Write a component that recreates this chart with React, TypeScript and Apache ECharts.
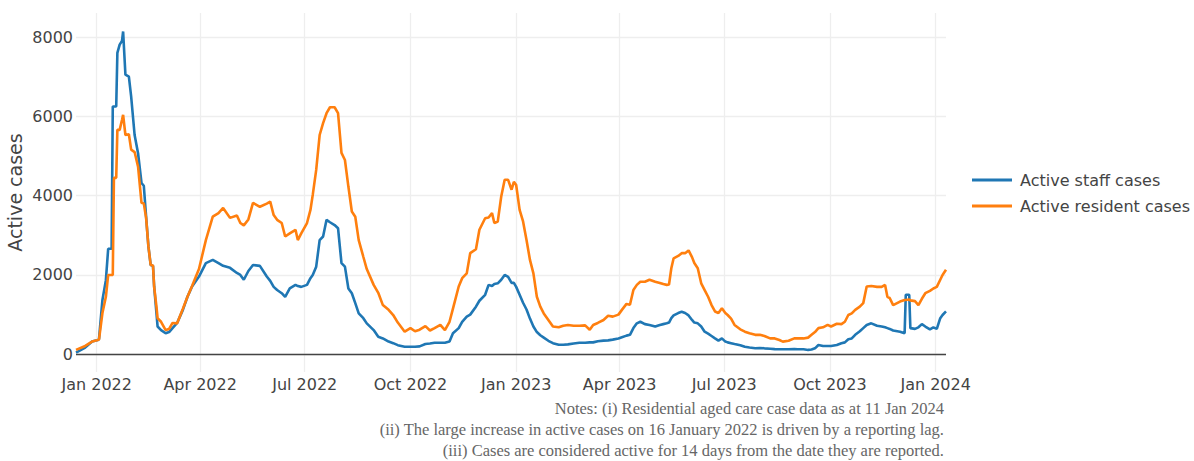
import React, { useEffect, useRef } from 'react';
import * as echarts from 'echarts';

const dates: string[] = [
  '2021-12-14', '2021-12-22', '2021-12-28', '2022-01-02', '2022-01-03', '2022-01-06', '2022-01-09', '2022-01-11',
  '2022-01-14', '2022-01-15', '2022-01-16', '2022-01-18', '2022-01-19', '2022-01-21', '2022-01-23', '2022-01-24',
  '2022-01-26', '2022-01-29', '2022-01-31', '2022-02-03', '2022-02-06', '2022-02-09', '2022-02-11', '2022-02-13',
  '2022-02-15', '2022-02-17', '2022-02-19', '2022-02-20', '2022-02-22', '2022-02-23', '2022-02-26', '2022-03-02',
  '2022-03-05', '2022-03-08', '2022-03-12', '2022-03-17', '2022-03-21', '2022-03-25', '2022-03-31', '2022-04-06',
  '2022-04-12', '2022-04-17', '2022-04-21', '2022-04-27', '2022-05-03', '2022-05-06', '2022-05-09', '2022-05-13',
  '2022-05-17', '2022-05-23', '2022-05-29', '2022-06-01', '2022-06-04', '2022-06-07', '2022-06-11', '2022-06-14',
  '2022-06-18', '2022-06-23', '2022-06-25', '2022-06-28', '2022-07-03', '2022-07-06', '2022-07-08', '2022-07-11',
  '2022-07-14', '2022-07-17', '2022-07-20', '2022-07-23', '2022-07-27', '2022-07-30', '2022-08-02', '2022-08-05',
  '2022-08-08', '2022-08-11', '2022-08-14', '2022-08-17', '2022-08-21', '2022-08-24', '2022-08-30', '2022-09-03',
  '2022-09-07', '2022-09-12', '2022-09-16', '2022-09-20', '2022-09-26', '2022-10-01', '2022-10-05', '2022-10-09',
  '2022-10-14', '2022-10-18', '2022-10-22', '2022-10-27', '2022-10-31', '2022-11-04', '2022-11-07', '2022-11-12',
  '2022-11-15', '2022-11-19', '2022-11-22', '2022-11-27', '2022-11-30', '2022-12-05', '2022-12-08', '2022-12-11',
  '2022-12-13', '2022-12-16', '2022-12-19', '2022-12-22', '2022-12-25', '2022-12-28', '2022-12-30', '2023-01-01',
  '2023-01-04', '2023-01-07', '2023-01-10', '2023-01-13', '2023-01-16', '2023-01-19', '2023-01-22', '2023-01-25',
  '2023-01-29', '2023-02-02', '2023-02-07', '2023-02-11', '2023-02-15', '2023-02-20', '2023-02-25', '2023-03-02',
  '2023-03-06', '2023-03-09', '2023-03-13', '2023-03-18', '2023-03-22', '2023-03-26', '2023-03-31', '2023-04-03',
  '2023-04-07', '2023-04-10', '2023-04-13', '2023-04-16', '2023-04-19', '2023-04-23', '2023-04-27', '2023-05-02',
  '2023-05-06', '2023-05-09', '2023-05-12', '2023-05-14', '2023-05-16', '2023-05-18', '2023-05-22', '2023-05-25',
  '2023-05-28', '2023-05-31', '2023-06-03', '2023-06-05', '2023-06-08', '2023-06-11', '2023-06-14', '2023-06-17',
  '2023-06-20', '2023-06-23', '2023-06-26', '2023-06-29', '2023-07-02', '2023-07-04', '2023-07-07', '2023-07-10',
  '2023-07-15', '2023-07-19', '2023-07-23', '2023-07-28', '2023-08-01', '2023-08-05', '2023-08-10', '2023-08-14',
  '2023-08-18', '2023-08-21', '2023-08-26', '2023-08-31', '2023-09-03', '2023-09-08', '2023-09-12', '2023-09-15',
  '2023-09-18', '2023-09-21', '2023-09-25', '2023-09-29', '2023-10-02', '2023-10-07', '2023-10-11', '2023-10-14',
  '2023-10-17', '2023-10-20', '2023-10-23', '2023-10-27', '2023-10-30', '2023-11-02', '2023-11-06', '2023-11-11',
  '2023-11-15', '2023-11-18', '2023-11-20', '2023-11-22', '2023-11-25', '2023-12-01', '2023-12-05', '2023-12-06',
  '2023-12-09', '2023-12-10', '2023-12-14', '2023-12-17', '2023-12-20', '2023-12-23', '2023-12-27', '2023-12-30',
  '2024-01-02', '2024-01-05', '2024-01-07', '2024-01-10',
];

const staffCases: number[] = [
  40, 170, 320, 360, 380, 1370, 1870, 2660,
  2660, 6250, 6250, 6250, 7600, 7810, 7900, 8140,
  7050, 7000, 6500, 5530, 5070, 4320, 4250, 3470,
  2720, 2250, 2230, 1710, 1040, 700, 610, 530,
  560, 660, 790, 1120, 1450, 1710, 1960, 2300,
  2380, 2300, 2230, 2180, 2050, 2000, 1880, 2100,
  2250, 2230, 1960, 1850, 1700, 1620, 1540, 1450,
  1660, 1750, 1720, 1700, 1750, 1920, 2000, 2210,
  2880, 2970, 3390, 3330, 3260, 3180, 2300, 2210,
  1660, 1540, 1290, 1030, 910, 780, 610, 440,
  400, 320, 280, 230, 190, 190, 190, 200,
  260, 270, 290, 290, 290, 320, 530, 660,
  820, 950, 1000, 1200, 1350, 1500, 1750, 1720,
  1770, 1790, 1880, 2000, 1950, 1800, 1800, 1700,
  1500, 1300, 1130, 900, 700, 560, 480, 420,
  340, 280, 240, 240, 250, 270, 290, 290,
  300, 300, 330, 345, 350, 370, 400, 430,
  470, 490, 660, 780, 820, 760, 740, 700,
  740, 760, 780, 800, 910, 980, 1040, 1070,
  1040, 980, 865, 800, 780, 700, 570, 520,
  460, 400, 345, 400, 320, 300, 280, 260,
  230, 190, 170, 150, 160, 150, 140, 130,
  125, 125, 125, 130, 125, 125, 110, 120,
  150, 235, 210, 210, 210, 235, 280, 300,
  380, 400, 490, 580, 660, 740, 780, 720,
  700, 680, 660, 640, 600, 570, 530, 1500,
  1500, 660, 640, 680, 760, 700, 630, 680,
  640, 910, 990, 1080,
];

const residentCases: number[] = [
  110, 210, 320, 360, 370, 1040, 1450, 2000,
  2000, 2000, 4450, 4450, 5660, 5660, 5910, 6040,
  5530, 5550, 5160, 5100, 4730, 3820, 3800, 3440,
  2720, 2250, 2240, 1700, 1200, 910, 820, 610,
  640, 790, 780, 1150, 1450, 1720, 2150, 2880,
  3470, 3560, 3690, 3440, 3500, 3310, 3250, 3400,
  3820, 3720, 3800, 3850, 3510, 3390, 3310, 2970,
  3050, 3140, 2880, 3050, 3310, 3640, 4020, 4650,
  5530, 5830, 6080, 6230, 6230, 6080, 5080, 4900,
  4230, 3600, 3470, 2880, 2460, 2150, 1750, 1550,
  1240, 1120, 990, 800, 570, 660, 580, 620,
  710, 600, 660, 740, 610, 820, 1150, 1710,
  1920, 2040, 2550, 2650, 3140, 3430, 3450, 3560,
  3310, 3350, 3980, 4400, 4400, 4150, 4350, 4270,
  3640, 3350, 2880, 2380, 2040, 1450, 1200, 1030,
  865, 700, 680, 720, 740, 720, 720, 730,
  620, 740, 790, 865, 970, 950, 1000, 1120,
  1270, 1250, 1620, 1750, 1830, 1830, 1880, 1830,
  1800, 1770, 1750, 1760, 2170, 2420, 2480, 2550,
  2550, 2620, 2450, 2300, 2170, 1790, 1620, 1450,
  1240, 1080, 1040, 1160, 1040, 990, 900, 740,
  630, 570, 530, 490, 490, 460, 400, 400,
  360, 320, 340, 400, 400, 400, 420, 490,
  560, 660, 680, 740, 700, 770, 760, 820,
  990, 1030, 1120, 1200, 1290, 1710, 1720, 1700,
  1700, 1750, 1450, 1420, 1240, 1330, 1370, 1370,
  1380, 1360, 1340, 1240, 1400, 1540, 1600, 1660,
  1700, 1880, 2000, 2130,
];

const seriesNames = ['Active staff cases', 'Active resident cases'];
const seriesColors = ['#1f77b4', '#ff7f0e'];
const xRange = ['2021-12-14', '2024-01-10'];
const xTickDates = [
  '2022-01-01', '2022-04-01', '2022-07-01', '2022-10-01', '2023-01-01',
  '2023-04-01', '2023-07-01', '2023-10-01', '2024-01-01',
];
const yTickValues = [0, 2000, 4000, 6000, 8000];
const yRange = [-447, 8607];
const monthNames = ['Jan', 'Feb', 'Mar', 'Apr', 'May', 'Jun', 'Jul', 'Aug', 'Sep', 'Oct', 'Nov', 'Dec'];
const yTitle = 'Active cases';
const notes = [
  'Notes: (i) Residential aged care case data as at 11 Jan 2024',
  '(ii) The large increase in active cases on 16 January 2022 is driven by a reporting lag.',
  '(iii) Cases are considered active for 14 days from the date they are reported.',
];

const toTime = (s: string) => Date.parse(s + 'T00:00:00Z');

export default function App() {
  const ref = useRef<HTMLDivElement>(null);

  useEffect(() => {
    if (!ref.current) return;
    const chart = echarts.init(ref.current, null, { renderer: 'svg' });
    const font = 'DejaVu Sans';
    const valueSets = [staffCases, residentCases];
    const xTicks = xTickDates.map(toTime);

    chart.setOption({
      animation: false,
      backgroundColor: '#ffffff',
      grid: { left: 76, right: 248, top: 13, bottom: 89, containLabel: false, outerBoundsMode: 'none' },
      legend: {
        orient: 'vertical',
        left: 972,
        top: 170,
        padding: 0,
        itemWidth: 40,
        itemHeight: 3,
        itemGap: 6,
        icon: 'rect',
        textStyle: { fontFamily: font, fontSize: 16, color: '#444', lineHeight: 20, padding: [0, 0, 0, 3] },
        data: seriesNames,
      },
      xAxis: {
        type: 'value',
        min: toTime(xRange[0]),
        max: toTime(xRange[1]),
        axisLine: { show: false },
        axisTick: { show: false, customValues: xTicks },
        axisLabel: {
          customValues: xTicks,
          color: '#444',
          fontFamily: font,
          fontSize: 16,
          margin: 4,
          formatter: (v: number) => {
            const d = new Date(v);
            return monthNames[d.getUTCMonth()] + ' ' + d.getUTCFullYear();
          },
        },
        splitLine: { show: true, lineStyle: { color: '#eeeeee', width: 1.3 } },
      },
      yAxis: {
        type: 'value',
        min: yRange[0],
        max: yRange[1],
        name: yTitle,
        nameLocation: 'middle',
        nameGap: 52,
        nameMoveOverlap: false,
        nameTextStyle: { fontFamily: font, fontSize: 19, color: '#444' },
        axisLine: { show: false },
        axisTick: { show: false, customValues: yTickValues },
        axisLabel: {
          customValues: yTickValues,
          color: '#444',
          fontFamily: font,
          fontSize: 16,
          margin: 3,
          formatter: (v: number) => String(v),
        },
        splitLine: { show: true, lineStyle: { color: '#eeeeee', width: 1.3 } },
      },
      series: seriesNames.map((name, si) => ({
        name,
        type: 'line',
        symbol: 'none',
        showSymbol: false,
        z: 2 + si,
        lineStyle: { width: 2.6, color: seriesColors[si] },
        itemStyle: { color: seriesColors[si] },
        data: dates.map((d, i) => [toTime(d), valueSets[si][i]]),
        markLine: si === 0 ? {
          silent: true,
          symbol: 'none',
          label: { show: false },
          lineStyle: { color: '#444', width: 1.3, type: 'solid' },
          data: [{ yAxis: 0 }],
        } : undefined,
      })),
      graphic: notes.map((t, i) => ({
        type: 'text',
        right: 250,
        top: 400 + i * 21,
        style: {
          text: t,
          font: '16.5px "Liberation Serif"',
          lineHeight: 16,
          fill: '#666',
          textAlign: 'right',
        },
      })),
    });

    return () => chart.dispose();
  }, []);

  return <div ref={ref} style={{ position: 'fixed', left: 0, top: 0, width: 1194, height: 461 }} />;
}
